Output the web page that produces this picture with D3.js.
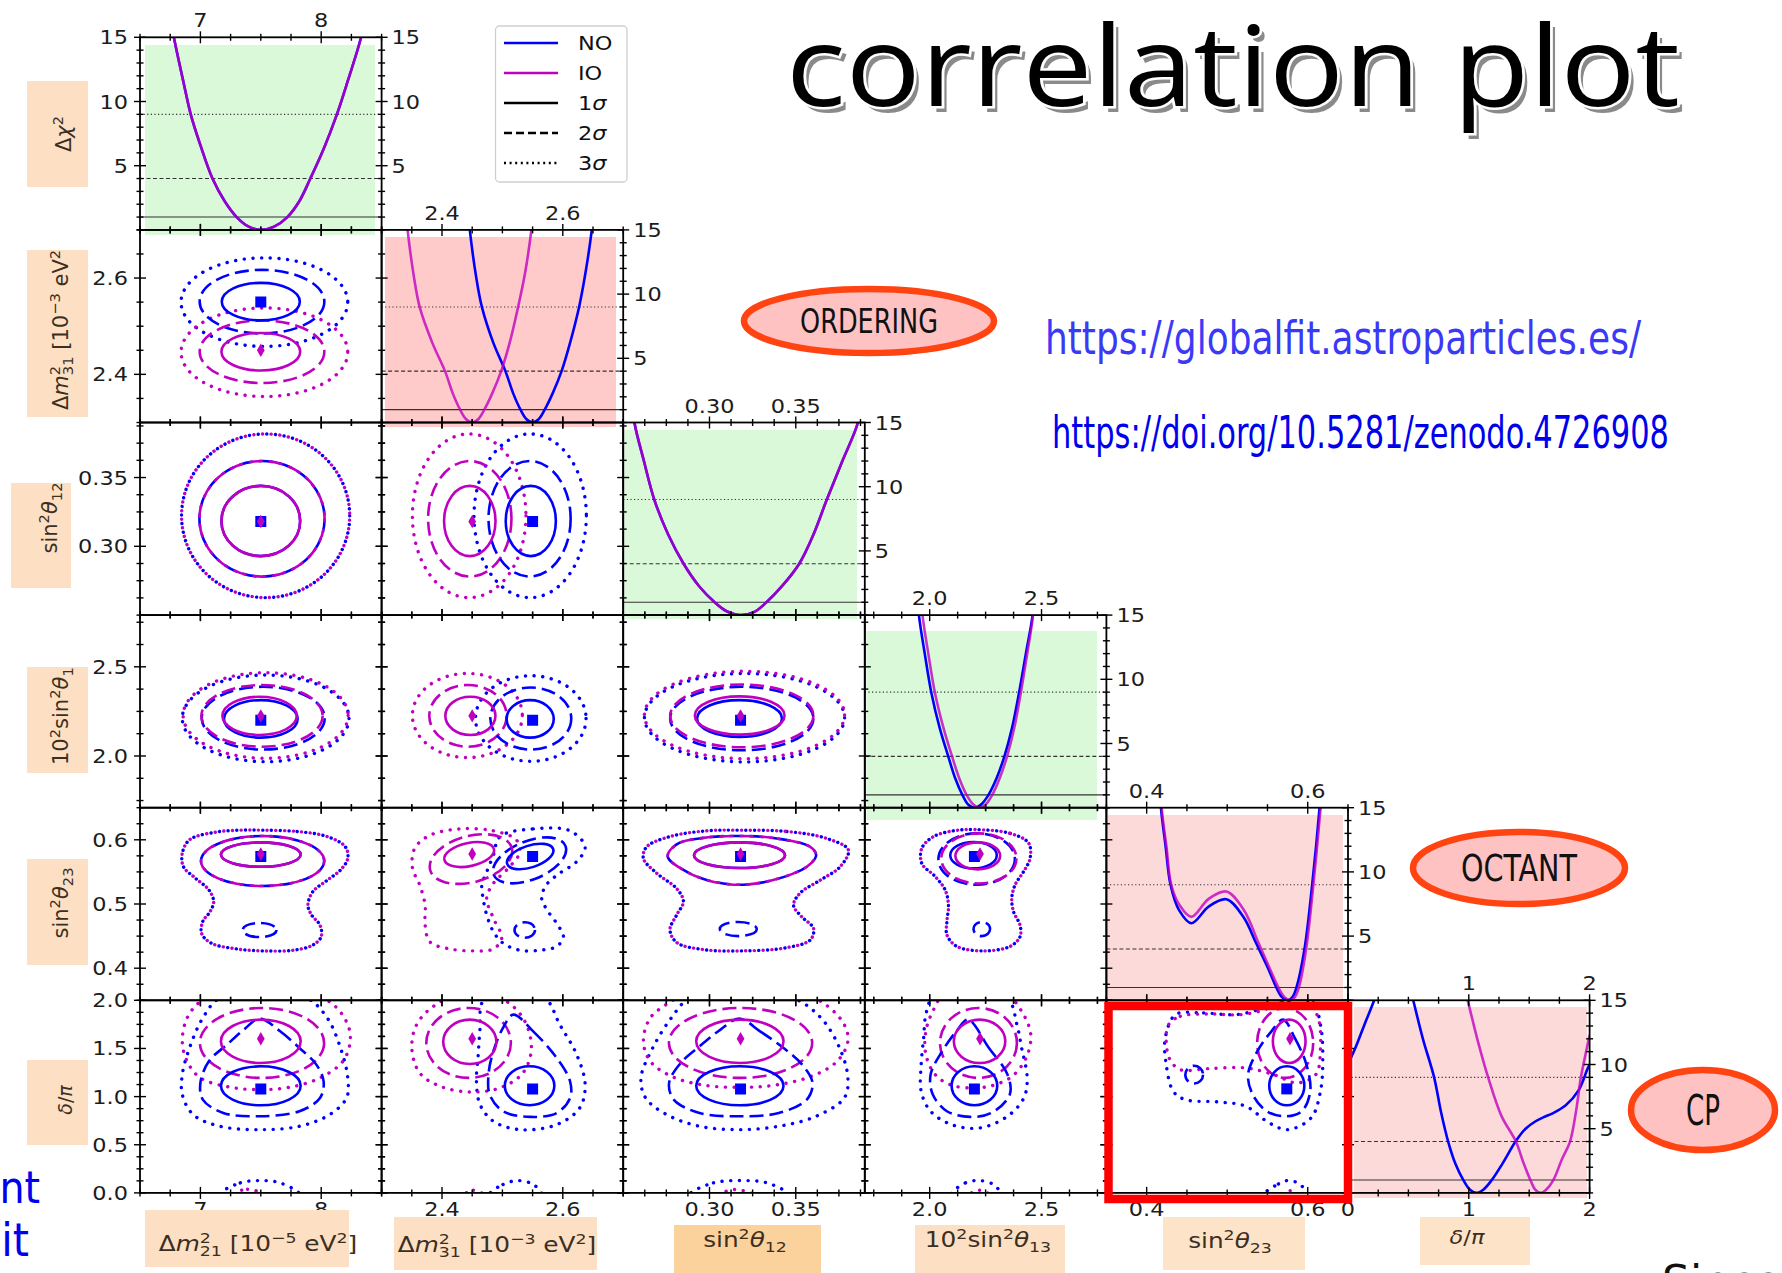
<!DOCTYPE html>
<html>
<head>
<meta charset="utf-8">
<script src="https://cdn.jsdelivr.net/npm/d3@7"></script>
<style>
  body { margin: 0; background: #fff; }
  svg { display: block; }
  text { font-family: "DejaVu Sans", sans-serif; white-space: pre; }
  .cond { font-family: "DejaVu Sans Condensed", "Liberation Sans Narrow", "DejaVu Sans", sans-serif; }
</style>
</head>
<body>
<svg id="chart" width="1782" height="1273"></svg>
<script>
// ---- parameters, in corner-plot order (column index = row index) ----
var paramNames = ['dm21', 'dm31', 's12', 's13', 's23', 'dcp'];
var domains = [[6.5, 8.5], [2.3, 2.7], [0.25, 0.39], [1.71, 2.79], [0.35, 0.65], [0, 2]];
var chiDomain = [0, 15];

var colTicks = [[7, 8], [2.4, 2.6], [0.30, 0.35], [2.0, 2.5], [0.4, 0.6], [0, 1, 2]];
var colTickLabels = [['7', '8'], ['2.4', '2.6'], ['0.30', '0.35'], ['2.0', '2.5'], ['0.4', '0.6'], ['0', '1', '2']];
var topTicks = [[7, 8], [2.4, 2.6], [0.30, 0.35], [2.0, 2.5], [0.4, 0.6], [1, 2]];
var topTickLabels = [['7', '8'], ['2.4', '2.6'], ['0.30', '0.35'], ['2.0', '2.5'], ['0.4', '0.6'], ['1', '2']];
var colMinor = [0.25, 0.05, 0.0125, 0.125, 0.05, 0.25];
var rowTicks = [[5, 10, 15], [2.4, 2.6], [0.30, 0.35], [2.0, 2.5], [0.4, 0.5, 0.6], [0, 0.5, 1, 1.5, 2]];
var rowTickLabels = [['5', '10', '15'], ['2.4', '2.6'], ['0.30', '0.35'], ['2.0', '2.5'], ['0.4', '0.5', '0.6'], ['0.0', '0.5', '1.0', '1.5', '2.0']];
var rowMinor = [1, 0.05, 0.0125, 0.125, 0.025, 0.125];
var chiTicks = [5, 10, 15];
var chiTickLabels = ['5', '10', '15'];
var sigmaLevels = [1, 4, 9];

// best fit points
var bestNO = [7.50, 2.55, 0.318, 2.20, 0.574, 1.08];
var bestIO = [7.50, 2.45, 0.318, 2.225, 0.578, 1.60];

// ---- 1D profiles  [value, delta chi2] ----
var chiDm21NO = [[6.74,17],[6.78,15],[6.86,11.5],[6.92,9],[7.00,6.6],[7.10,4],[7.20,2.25],[7.30,1],[7.40,0.25],[7.50,0],[7.61,0.25],[7.72,1],[7.82,2.25],[7.91,4],[8.02,6.3],[8.13,9],[8.22,11.6],[8.33,15],[8.37,17]];
var chiDm21IO = chiDm21NO; // both orderings coincide
var chiDm31NO = [[2.442,17],[2.446,15],[2.456,11.5],[2.466,9],[2.485,6.2],[2.505,4],[2.518,2.25],[2.530,1],[2.540,0.25],[2.550,0],[2.560,0.25],[2.570,1],[2.583,2.25],[2.598,4],[2.612,6.2],[2.627,9],[2.637,11.5],[2.648,15],[2.652,17]];
var chiDm31IO = [[2.339,17],[2.343,15],[2.353,11.5],[2.363,9],[2.384,6.2],[2.405,4],[2.418,2.25],[2.430,1],[2.440,0.25],[2.450,0],[2.460,0.25],[2.470,1],[2.483,2.25],[2.498,4],[2.512,6.2],[2.526,9],[2.537,11.5],[2.548,15],[2.552,17]];
var chiS12NO = [[0.255,17],[0.2565,15],[0.262,12],[0.268,9],[0.276,6.3],[0.285,4],[0.294,2.25],[0.303,1],[0.310,0.3],[0.318,0],[0.326,0.25],[0.333,1],[0.342,2.25],[0.352,4],[0.360,6.2],[0.368,9],[0.377,12],[0.386,15],[0.388,17]];
var chiS12IO = chiS12NO;
var chiS13NO = [[1.945,17],[1.952,15],[1.978,12],[2.007,9],[2.045,6.2],[2.083,4],[2.115,2.25],[2.146,1],[2.172,0.25],[2.200,0],[2.230,0.25],[2.263,1],[2.298,2.25],[2.334,4],[2.368,6.2],[2.400,9],[2.430,12],[2.460,15],[2.467,17]];
var chiS13IO = [[1.962,17],[1.968,15],[1.994,12],[2.023,9],[2.062,6.2],[2.100,4],[2.133,2.25],[2.165,1],[2.195,0.25],[2.222,0],[2.250,0.25],[2.280,1],[2.312,2.25],[2.346,4],[2.378,6.2],[2.408,9],[2.436,12],[2.462,15],[2.469,17]];
var chiS23NO = [[0.416,17],[0.4177,15],[0.4235,12],[0.4296,9],[0.4404,7.0],[0.4555,6.0],[0.477,7.3],[0.499,7.87],[0.520,6.5],[0.536,4.44],[0.550,2.6],[0.561,1.0],[0.568,0.25],[0.5755,0],[0.581,0.25],[0.586,1],[0.596,4],[0.6055,9],[0.6147,15],[0.617,17]];
var chiS23IO = [[0.417,17],[0.4185,15],[0.4245,12],[0.4305,9],[0.441,7.4],[0.4555,6.5],[0.477,7.9],[0.499,8.47],[0.521,7.0],[0.538,4.6],[0.552,2.6],[0.5635,1.0],[0.571,0.25],[0.578,0],[0.584,0.25],[0.589,1],[0.598,4],[0.607,9],[0.616,15],[0.6185,17]];
var chiDcpNO = [[0,10],[0.07,11.5],[0.14,13.2],[0.216,15],[0.30,17.5],[0.40,18.5],[0.50,16.5],[0.54,15],[0.62,12],[0.713,9],[0.77,6.3],[0.829,4],[0.89,2.25],[0.955,1],[1.01,0.25],[1.063,0],[1.12,0.25],[1.19,1],[1.28,2.3],[1.387,4],[1.47,5.0],[1.55,5.56],[1.62,5.9],[1.694,6.2],[1.80,6.8],[1.91,8.0],[1.98,9.6],[2.0,10]];
var chiDcpIO = [[0.85,20],[0.93,17],[0.99,15],[1.07,12],[1.16,9],[1.27,6.0],[1.39,4],[1.45,2.4],[1.51,1],[1.55,0.25],[1.595,0],[1.64,0.25],[1.70,1],[1.77,2.6],[1.838,4],[1.89,6.5],[1.928,9],[1.98,11.4],[2.0,12.3]];

// ---- 2D contours: near-elliptic ones  [row, col, ordering, sigma, cx, cy, rx, ry, tilt] ----
var ellipses = [
  [1,0,'NO',1, 7.50,2.551,0.323,0.039,0], [1,0,'NO',2, 7.51,2.551,0.516,0.066,0], [1,0,'NO',3, 7.53,2.550,0.69,0.092,0],
  [1,0,'IO',1, 7.50,2.447,0.326,0.039,0], [1,0,'IO',2, 7.51,2.447,0.516,0.065,0], [1,0,'IO',3, 7.53,2.446,0.69,0.092,0],
  [2,0,'B',1, 7.50,0.3184,0.326,0.0255,0], [2,0,'B',2, 7.51,0.320,0.518,0.042,0], [2,0,'B',3, 7.54,0.3222,0.696,0.0595,0],
  [2,1,'IO',1, 2.446,0.3184,0.0426,0.0255,0], [2,1,'NO',1, 2.547,0.3184,0.0415,0.0255,0],
  [2,1,'IO',2, 2.446,0.320,0.069,0.042,0], [2,1,'NO',2, 2.545,0.320,0.068,0.042,0],
  [2,1,'IO',3, 2.445,0.3222,0.094,0.0595,0], [2,1,'NO',3, 2.546,0.3222,0.093,0.0595,0],
  [3,0,'NO',1, 7.50,2.208,0.305,0.105,0], [3,0,'IO',1, 7.49,2.225,0.308,0.107,0],
  [3,0,'NO',2, 7.52,2.212,0.509,0.176,0], [3,0,'IO',2, 7.51,2.225,0.502,0.173,0],
  [3,0,'NO',3, 7.54,2.211,0.69,0.243,0], [3,0,'IO',3, 7.54,2.227,0.683,0.240,0],
  [3,1,'IO',1, 2.447,2.225,0.0415,0.107,0], [3,1,'NO',1, 2.546,2.208,0.039,0.105,0],
  [3,1,'IO',2, 2.443,2.225,0.064,0.173,0], [3,1,'NO',2, 2.547,2.21,0.067,0.174,0],
  [3,1,'IO',3, 2.442,2.227,0.091,0.236,0], [3,1,'NO',3, 2.547,2.21,0.0915,0.24,0],
  [3,2,'NO',1, 0.3174,2.21,0.0246,0.103,0], [3,2,'IO',1, 0.3175,2.227,0.026,0.107,0],
  [3,2,'NO',2, 0.3187,2.21,0.0415,0.178,0], [3,2,'IO',2, 0.3187,2.225,0.0415,0.176,0],
  [3,2,'NO',3, 0.3203,2.215,0.058,0.248,0], [3,2,'IO',3, 0.3203,2.23,0.058,0.245,0],
  [4,0,'B',1, 7.50,0.577,0.33,0.019,0], [4,0,'B',2, 7.515,0.567,0.51,0.039,0], [4,0,'NO',2, 7.49,0.4595,0.14,0.011,0],
  [4,1,'NO',1, 2.546,0.574,0.040,0.017,-18], [4,1,'IO',1, 2.445,0.577,0.042,0.018,-12],
  [4,1,'NO',2, 2.545,0.568,0.064,0.030,-22], [4,1,'IO',2, 2.448,0.570,0.070,0.036,-15],
  [4,1,'NO',2, 2.537,0.4595,0.017,0.012,0],
  [4,2,'B',1, 0.3174,0.576,0.0264,0.020,0], [4,2,'NO',2, 0.3167,0.461,0.0107,0.011,0],
  [4,3,'NO',1, 2.196,0.576,0.104,0.0205,0], [4,3,'IO',1, 2.215,0.575,0.100,0.021,0],
  [4,3,'NO',2, 2.21,0.570,0.171,0.040,0], [4,3,'IO',2, 2.22,0.571,0.168,0.039,0], [4,3,'NO',2, 2.233,0.461,0.037,0.011,0],
  [5,0,'IO',1, 7.50,1.574,0.33,0.225,0], [5,0,'NO',1, 7.50,1.112,0.33,0.2025,0], [5,0,'IO',2, 7.51,1.557,0.514,0.363,0],
  [5,1,'IO',1, 2.446,1.569,0.044,0.23,0], [5,1,'NO',1, 2.545,1.112,0.041,0.2025,0], [5,1,'IO',2, 2.444,1.557,0.070,0.363,0],
  [5,2,'IO',1, 0.3176,1.574,0.0253,0.225,0], [5,2,'NO',1, 0.3176,1.112,0.0253,0.2025,0], [5,2,'IO',2, 0.318,1.557,0.0415,0.363,0],
  [5,3,'IO',1, 2.223,1.574,0.115,0.225,0], [5,3,'NO',1, 2.20,1.112,0.102,0.2025,0], [5,3,'IO',2, 2.218,1.557,0.172,0.363,0],
  [5,4,'IO',1, 0.577,1.574,0.0203,0.225,0], [5,4,'NO',1, 0.574,1.112,0.0218,0.2025,0], [5,4,'IO',2, 0.572,1.557,0.0348,0.363,0],
  [5,4,'NO',2, 0.459,1.228,0.011,0.092,0]
];

// ---- 2D contours: irregular outlines, [x, y] in parameter units ----
var s23_dm21_3s = [[7.52,0.615],[7.80,0.613],[8.05,0.605],[8.20,0.589],[8.22,0.571],[8.16,0.553],[8.05,0.537],[7.93,0.519],[7.89,0.498],[7.92,0.483],[7.99,0.467],[8.00,0.449],[7.93,0.436],[7.77,0.428],[7.52,0.427],[7.30,0.430],[7.09,0.439],[7.01,0.454],[7.02,0.473],[7.08,0.488],[7.11,0.504],[7.07,0.522],[6.96,0.540],[6.86,0.558],[6.85,0.579],[6.91,0.600],[7.13,0.612],[7.33,0.615]];
var s23_dm31_NO3 = [[2.496,0.605],[2.551,0.617],[2.612,0.614],[2.637,0.589],[2.623,0.566],[2.595,0.548],[2.573,0.530],[2.565,0.509],[2.576,0.488],[2.592,0.467],[2.601,0.449],[2.590,0.434],[2.562,0.428],[2.529,0.428],[2.501,0.439],[2.485,0.457],[2.474,0.483],[2.468,0.509],[2.466,0.530],[2.474,0.550],[2.485,0.576]];
var s23_dm31_IO3 = [[2.430,0.617],[2.485,0.614],[2.523,0.600],[2.529,0.581],[2.512,0.558],[2.485,0.532],[2.474,0.509],[2.485,0.478],[2.499,0.447],[2.485,0.430],[2.452,0.427],[2.413,0.430],[2.380,0.441],[2.372,0.467],[2.372,0.498],[2.363,0.530],[2.351,0.556],[2.355,0.587],[2.380,0.607]];
var s23_s12_2s = [[0.3177,0.606],[0.3390,0.602],[0.3584,0.589],[0.3618,0.576],[0.3564,0.558],[0.3390,0.539],[0.3197,0.530],[0.3003,0.536],[0.2849,0.553],[0.2758,0.574],[0.2810,0.593],[0.2965,0.603]];
var s23_s12_3s = [[0.3177,0.615],[0.3448,0.613],[0.3680,0.602],[0.3805,0.584],[0.3757,0.558],[0.3641,0.537],[0.3525,0.517],[0.3487,0.498],[0.3535,0.480],[0.3603,0.462],[0.3584,0.444],[0.3448,0.432],[0.3197,0.427],[0.2965,0.429],[0.2810,0.440],[0.2771,0.460],[0.2810,0.483],[0.2849,0.504],[0.2810,0.524],[0.2694,0.548],[0.2617,0.571],[0.2636,0.589],[0.2771,0.605],[0.2984,0.614]];
var s23_s13_3s = [[2.203,0.616],[2.360,0.610],[2.442,0.595],[2.449,0.571],[2.419,0.550],[2.382,0.530],[2.367,0.509],[2.375,0.488],[2.404,0.467],[2.404,0.449],[2.360,0.434],[2.241,0.427],[2.121,0.434],[2.077,0.452],[2.077,0.473],[2.084,0.498],[2.069,0.522],[2.024,0.543],[1.965,0.563],[1.965,0.587],[2.017,0.605],[2.106,0.614]];

var dcp_dm21_NO2 = [[7.49,1.810],[7.66,1.678],[7.82,1.505],[7.96,1.332],[8.02,1.159],[7.99,0.986],[7.82,0.848],[7.49,0.796],[7.19,0.830],[7.02,0.969],[7.00,1.142],[7.07,1.367],[7.22,1.540],[7.36,1.696]];
var dcp_dm21_IO3 = [[7.19,2.128],[7.80,2.128],[8.10,1.955],[8.22,1.747],[8.24,1.574],[8.18,1.367],[7.99,1.194],[7.74,1.097],[7.49,1.073],[7.25,1.097],[7.00,1.194],[6.89,1.367],[6.85,1.574],[6.89,1.817],[7.00,1.990]];
var dcp_dm21_NO3 = [[7.16,2.024],[7.49,2.076],[7.88,2.024],[8.05,1.817],[8.16,1.505],[8.22,1.194],[8.21,0.986],[8.07,0.813],[7.82,0.692],[7.49,0.657],[7.16,0.692],[6.94,0.813],[6.85,1.021],[6.85,1.228],[6.91,1.505],[7.02,1.817]];
var dcp_dm21_NO3b = [[7.16,-0.017],[7.33,0.104],[7.49,0.128],[7.66,0.104],[7.82,-0.017],[7.49,-0.121]];
var dcp_dm21_IO3b = [[7.27,-0.017],[7.39,0.038],[7.52,-0.017],[7.39,-0.087]];

var dcp_dm31_NO2 = [[2.518,1.851],[2.551,1.678],[2.590,1.401],[2.612,1.159],[2.612,0.986],[2.590,0.830],[2.546,0.789],[2.501,0.848],[2.479,1.021],[2.477,1.228],[2.485,1.471],[2.501,1.713]];
var dcp_dm31_IO3 = [[2.430,2.059],[2.496,2.024],[2.534,1.817],[2.548,1.505],[2.534,1.246],[2.496,1.090],[2.446,1.048],[2.397,1.107],[2.363,1.246],[2.350,1.505],[2.358,1.747],[2.386,1.938]];
var dcp_dm31_NO3 = [[2.468,1.990],[2.512,2.059],[2.570,2.024],[2.595,1.747],[2.623,1.436],[2.637,1.125],[2.628,0.882],[2.590,0.709],[2.529,0.657],[2.485,0.744],[2.463,0.917],[2.457,1.159],[2.460,1.436],[2.463,1.713]];
var dcp_dm31_NO3b = [[2.479,-0.017],[2.501,0.087],[2.526,0.128],[2.551,0.087],[2.565,-0.017],[2.523,-0.121]];
var dcp_dm31_IO3b = [[2.438,-0.017],[2.452,0.028],[2.468,-0.017],[2.452,-0.069]];

var dcp_s12_NO2 = [[0.3172,1.810],[0.3293,1.678],[0.3429,1.505],[0.3537,1.332],[0.3597,1.142],[0.3564,0.969],[0.3402,0.830],[0.3172,0.796],[0.2942,0.830],[0.2793,0.969],[0.2766,1.142],[0.2833,1.349],[0.2955,1.540],[0.3064,1.696]];
var dcp_s12_IO3 = [[0.2914,2.128],[0.3456,2.128],[0.3673,1.955],[0.3781,1.747],[0.3802,1.574],[0.3740,1.367],[0.3591,1.211],[0.3375,1.118],[0.3172,1.097],[0.2969,1.118],[0.2779,1.211],[0.2657,1.367],[0.2617,1.574],[0.2657,1.817],[0.2779,1.990]];
var dcp_s12_NO3 = [[0.2887,2.024],[0.3172,2.076],[0.3483,2.024],[0.3646,1.817],[0.3754,1.505],[0.3802,1.194],[0.3781,0.986],[0.3618,0.796],[0.3402,0.692],[0.3172,0.657],[0.2942,0.692],[0.2752,0.813],[0.2630,0.986],[0.2603,1.194],[0.2671,1.505],[0.2779,1.817]];
var dcp_s12_NO3b = [[0.2887,-0.017],[0.3023,0.104],[0.3180,0.128],[0.3334,0.104],[0.3456,-0.017],[0.3180,-0.121]];
var dcp_s12_IO3b = [[0.3064,-0.017],[0.3145,0.035],[0.3253,-0.017],[0.3145,-0.069]];

var dcp_s13_NO2 = [[2.171,1.799],[2.265,1.505],[2.348,1.228],[2.358,1.021],[2.275,0.830],[2.181,0.789],[2.077,0.848],[2.014,1.021],[2.004,1.228],[2.056,1.471],[2.119,1.678]];
var dcp_s13_IO3 = [[2.077,2.093],[2.327,2.093],[2.411,1.886],[2.452,1.644],[2.431,1.401],[2.369,1.211],[2.285,1.118],[2.202,1.090],[2.098,1.118],[2.025,1.228],[1.983,1.436],[1.983,1.678],[2.014,1.886]];
var dcp_s13_NO3 = [[2.014,2.024],[2.202,2.076],[2.348,2.024],[2.390,1.747],[2.411,1.505],[2.436,1.194],[2.421,0.986],[2.348,0.796],[2.223,0.674],[2.098,0.709],[2.004,0.848],[1.962,1.055],[1.962,1.332],[1.973,1.609],[1.983,1.851]];
var dcp_s13_NO3b = [[2.098,-0.017],[2.160,0.104],[2.223,0.128],[2.285,0.087],[2.317,-0.017],[2.213,-0.104]];
var dcp_s13_IO3b = [[2.181,-0.017],[2.223,0.028],[2.265,-0.017],[2.223,-0.069]];

var dcp_s23_NO2 = [[0.5694,1.799],[0.5839,1.609],[0.5984,1.332],[0.6031,1.055],[0.5926,0.848],[0.5723,0.796],[0.5491,0.848],[0.5317,1.021],[0.5259,1.228],[0.5375,1.471],[0.5549,1.678]];
var dcp_s23_IO3 = [[0.4272,1.747],[0.4417,1.834],[0.4765,1.858],[0.5172,1.851],[0.5462,1.903],[0.5694,1.990],[0.5984,2.007],[0.6129,1.817],[0.6158,1.505],[0.6100,1.228],[0.5868,1.142],[0.5578,1.228],[0.5230,1.298],[0.4765,1.291],[0.4417,1.280],[0.4289,1.384],[0.4243,1.574]];
var dcp_s23_NO3 = [[0.4359,1.851],[0.4707,1.869],[0.5113,1.851],[0.5462,1.920],[0.5752,1.990],[0.6042,2.024],[0.6158,1.747],[0.6187,1.401],[0.6158,1.055],[0.6042,0.779],[0.5752,0.657],[0.5520,0.727],[0.5230,0.900],[0.4881,0.945],[0.4475,0.969],[0.4330,1.055],[0.4243,1.332],[0.4231,1.609]];
var dcp_s23_NO3b = [[0.5462,-0.017],[0.5636,0.093],[0.5752,0.128],[0.5897,0.093],[0.5984,-0.017],[0.5723,-0.104]];
var dcp_s23_IO3b = [[0.5694,-0.017],[0.5781,0.024],[0.5868,-0.017],[0.5781,-0.062]];

var polygons = [
  [4,0,'B',3,s23_dm21_3s],
  [4,1,'NO',3,s23_dm31_NO3], [4,1,'IO',3,s23_dm31_IO3],
  [4,2,'B',2,s23_s12_2s], [4,2,'B',3,s23_s12_3s],
  [4,3,'B',3,s23_s13_3s],
  [5,0,'NO',2,dcp_dm21_NO2], [5,0,'NO',3,dcp_dm21_NO3], [5,0,'IO',3,dcp_dm21_IO3], [5,0,'NO',3,dcp_dm21_NO3b], [5,0,'IO',3,dcp_dm21_IO3b],
  [5,1,'NO',2,dcp_dm31_NO2], [5,1,'NO',3,dcp_dm31_NO3], [5,1,'IO',3,dcp_dm31_IO3], [5,1,'NO',3,dcp_dm31_NO3b], [5,1,'IO',3,dcp_dm31_IO3b],
  [5,2,'NO',2,dcp_s12_NO2], [5,2,'NO',3,dcp_s12_NO3], [5,2,'IO',3,dcp_s12_IO3], [5,2,'NO',3,dcp_s12_NO3b], [5,2,'IO',3,dcp_s12_IO3b],
  [5,3,'NO',2,dcp_s13_NO2], [5,3,'NO',3,dcp_s13_NO3], [5,3,'IO',3,dcp_s13_IO3], [5,3,'NO',3,dcp_s13_NO3b], [5,3,'IO',3,dcp_s13_IO3b],
  [5,4,'NO',2,dcp_s23_NO2], [5,4,'NO',3,dcp_s23_NO3], [5,4,'IO',3,dcp_s23_IO3], [5,4,'NO',3,dcp_s23_NO3b], [5,4,'IO',3,dcp_s23_IO3b]
];

var chiNO = [chiDm21NO, chiDm31NO, chiS12NO, chiS13NO, chiS23NO, chiDcpNO];
var chiIO = [chiDm21IO, chiDm31IO, chiS12IO, chiS13IO, chiS23IO, chiDcpIO];

// ---- layout ----
var X0 = 140, Y0 = 37.3, PW = 241.6, PH = 192.6;
var colNO = '#0000ff', colIO = '#c000c0';
var textStretch = 1.18;   // the pasted plot is a little wider than tall
function px(c) { return X0 + c * PW; }
function py(r) { return Y0 + r * PH; }

var svg = d3.select('#chart');
var defs = svg.append('defs');
defs.append('clipPath').attr('id', 'panelClip')
  .append('rect').attr('width', PW).attr('height', PH);

var layerBg = svg.append('g');
var layerPlot = svg.append('g');
var layerAxes = svg.append('g');
var layerText = svg.append('g');
var layerDeco = svg.append('g');

function cellGroup(layer, r, c) {
  return layer.append('g').attr('transform', 'translate(' + px(c) + ',' + py(r) + ')');
}

var xs = domains.map(function (d) { return d3.scaleLinear().domain(d).range([0, PW]); });
var ys = domains.map(function (d) { return d3.scaleLinear().domain(d).range([PH, 0]); });
var chiY = d3.scaleLinear().domain(chiDomain).range([PH, 0]);

// ---- diagonal: 1D profiles on tinted backgrounds ----
var diagFill = ['#d9f9d9', '#ffcaca', '#d9f9d9', '#d9f9d9', '#fddada', '#fddada'];
var diagBox = [[5, 7.7, 230, 190], [3.4, 7.1, 231, 190], [1.3, 7.5, 232.5, 189],
               [1.7, 15.9, 230.5, 189], [1.6, 7.3, 235, 185], [6, 6.7, 233, 191]];

for (var i = 0; i < 6; i++) {
  var b = diagBox[i];
  cellGroup(layerBg, i, i).append('rect')
    .attr('x', b[0]).attr('y', b[1]).attr('width', b[2]).attr('height', b[3])
    .attr('fill', diagFill[i]);

  var g = cellGroup(layerPlot, i, i).attr('clip-path', 'url(#panelClip)');
  sigmaLevels.forEach(function (lv, k) {
    g.append('line')
      .attr('x1', 0).attr('x2', PW).attr('y1', chiY(lv)).attr('y2', chiY(lv))
      .attr('stroke', '#333').attr('stroke-width', 1.1)
      .attr('stroke-dasharray', [null, '4 2.5', '1.2 2.4'][k]);
  });
  var profile = d3.line()
    .x(function (d) { return xs[i](d[0]); })
    .y(function (d) { return chiY(d[1]); })
    .curve(d3.curveCatmullRom.alpha(0.5));
  g.append('path').attr('d', profile(chiNO[i]))
    .attr('fill', 'none').attr('stroke', colNO).attr('stroke-width', 2.6);
  g.append('path').attr('d', profile(chiIO[i]))
    .attr('fill', 'none').attr('stroke', colIO).attr('stroke-width', 2.6).attr('stroke-opacity', 0.8);
}

// ---- off-diagonal: confidence contours ----
function styleContour(sel, ord, lvl, shift) {
  sel.attr('fill', 'none')
    .attr('stroke', ord === 'NO' ? colNO : colIO)
    .attr('stroke-width', lvl === 3 ? 3.4 : 2.6)
    .attr('stroke-linecap', lvl === 3 ? 'round' : 'butt')
    .attr('stroke-dasharray', lvl === 1 ? null : (lvl === 2 ? '14 6' : '0.1 8.6'))
    .attr('stroke-dashoffset', shift ? (lvl === 2 ? 10 : 4.3) : 0);
}

function drawContours(r, c) {
  var gp = cellGroup(layerPlot, r, c).attr('clip-path', 'url(#panelClip)');
  var items = [];
  ellipses.forEach(function (e) { if (e[0] === r && e[1] === c) items.push({ lvl: e[3], ord: e[2], e: e }); });
  polygons.forEach(function (p) { if (p[0] === r && p[1] === c) items.push({ lvl: p[3], ord: p[2], pts: p[4] }); });
  items.sort(function (a, b) { return b.lvl - a.lvl; });

  var outlineOf = d3.line()
    .x(function (d) { return xs[c](d[0]); })
    .y(function (d) { return ys[r](d[1]); })
    .curve(d3.curveCatmullRomClosed.alpha(0.5));

  items.forEach(function (it) {
    var ords = it.ord === 'B' ? ['NO', 'IO'] : [it.ord];
    ords.forEach(function (o, k) {
      var el;
      if (it.e) {
        var e = it.e, cx = xs[c](e[4]), cy = ys[r](e[5]);
        el = gp.append('ellipse').attr('cx', cx).attr('cy', cy)
          .attr('rx', xs[c](e[4] + e[6]) - cx).attr('ry', cy - ys[r](e[5] + e[7]));
        if (e[8]) el.attr('transform', 'rotate(' + e[8] + ',' + cx + ',' + cy + ')');
      } else {
        el = gp.append('path').attr('d', outlineOf(it.pts));
      }
      styleContour(el, o, it.lvl, it.ord === 'B' && k === 1);
    });
  });

  gp.append('path').attr('d', d3.symbol(d3.symbolSquare, 121)())
    .attr('transform', 'translate(' + xs[c](bestNO[c]) + ',' + ys[r](bestNO[r]) + ')')
    .attr('fill', colNO);
  gp.append('path').attr('d', d3.symbol(d3.symbolDiamond, 52)())
    .attr('transform', 'translate(' + xs[c](bestIO[c]) + ',' + ys[r](bestIO[r]) + ')')
    .attr('fill', colIO);
}
for (var r = 1; r < 6; r++) {
  for (var c = 0; c < r; c++) drawContours(r, c);
}

// ---- frames and ticks ----
function tickSet(domain, step, majors) {
  var out = [];
  for (var k = Math.ceil(domain[0] / step - 1e-6); k * step <= domain[1] + 1e-9; k++) {
    var v = k * step;
    out.push({ v: v, major: majors.some(function (m) { return Math.abs(m - v) < step * 0.1; }) });
  }
  return out;
}
function xTickMarks(g, scale, ticks, y) {
  g.selectAll(null).data(ticks).enter().append('line')
    .attr('x1', function (d) { return scale(d.v); }).attr('x2', function (d) { return scale(d.v); })
    .attr('y1', function (d) { return y - (d.major ? 6 : 3.5); })
    .attr('y2', function (d) { return y + (d.major ? 6 : 3.5); })
    .attr('stroke', '#000').attr('stroke-width', 1.4);
}
function yTickMarks(g, scale, ticks, x) {
  g.selectAll(null).data(ticks).enter().append('line')
    .attr('y1', function (d) { return scale(d.v); }).attr('y2', function (d) { return scale(d.v); })
    .attr('x1', function (d) { return x - (d.major ? 6 : 3.5); })
    .attr('x2', function (d) { return x + (d.major ? 6 : 3.5); })
    .attr('stroke', '#000').attr('stroke-width', 1.4);
}

var tickFont = 19, tickCol = '#1c1c1c';
for (var rr = 0; rr < 6; rr++) {
  for (var cc = 0; cc <= rr; cc++) {
    var ga = cellGroup(layerAxes, rr, cc);
    var xt = tickSet(domains[cc], colMinor[cc], colTicks[cc]);
    xTickMarks(ga, xs[cc], xt, 0);
    xTickMarks(ga, xs[cc], xt, PH);
    if (rr === cc) {
      var ct = tickSet(chiDomain, 1, chiTicks);
      yTickMarks(ga, chiY, ct, PW);
      if (rr === 0) yTickMarks(ga, chiY, ct, 0);
    } else {
      var yt = tickSet(domains[rr], rowMinor[rr], rowTicks[rr]);
      yTickMarks(ga, ys[rr], yt, 0);
      yTickMarks(ga, ys[rr], yt, PW);
    }
    ga.append('rect').attr('width', PW).attr('height', PH)
      .attr('fill', 'none').attr('stroke', '#000').attr('stroke-width', 1.8);
  }
}

// ---- tick labels ----
function addLabels(g, vals, labels, fx, fy, anchor) {
  g.selectAll(null).data(vals).enter().append('text')
    .attr('transform', function (d) { return 'translate(' + fx(d) + ',' + fy(d) + ') scale(' + textStretch + ',1)'; })
    .attr('text-anchor', anchor).attr('font-size', tickFont).attr('fill', tickCol)
    .text(function (d, k) { return labels[k]; });
}
(function () {
  var g0 = cellGroup(layerText, 0, 0);
  addLabels(g0, chiTicks, chiTickLabels, function () { return -12; }, function (d) { return chiY(d) + 7; }, 'end');
  for (var r2 = 1; r2 < 6; r2++) {
    var gl = cellGroup(layerText, r2, 0);
    addLabels(gl, rowTicks[r2], rowTickLabels[r2], function () { return -12; },
      function (d) { return ys[r2](d) + 7; }, 'end');
  }
  for (var c2 = 0; c2 < 6; c2++) {
    var gb = cellGroup(layerText, 5, c2);
    addLabels(gb, colTicks[c2], colTickLabels[c2], function (d) { return xs[c2](d); },
      function () { return PH + 23; }, 'middle');
    var gt = cellGroup(layerText, c2, c2);
    addLabels(gt, topTicks[c2], topTickLabels[c2], function (d) { return xs[c2](d); },
      function () { return -10; }, 'middle');
    addLabels(gt, chiTicks, chiTickLabels, function () { return PW + 10; },
      function (d) { return chiY(d) + 7; }, 'start');
  }
})();

// ---- math-style text helper ----
function mathText(parent, x, y, fs, parts, anchor, rot, fill, sx) {
  var t = parent.append('text').attr('font-size', fs).attr('text-anchor', anchor || 'middle')
    .attr('fill', fill || '#000')
    .attr('transform', 'translate(' + x + ',' + y + ')' + (rot ? ' rotate(' + rot + ')' : '') + (sx ? ' scale(' + sx + ',1)' : ''));
  var off = 0;
  parts.forEach(function (p) {
    if (typeof p === 'string') p = { t: p };
    if (p.t !== undefined) {
      t.append('tspan').attr('dy', -off).attr('font-style', p.i ? 'italic' : null).text(p.t);
      off = 0;
    } else if (p.sup !== undefined) {
      var s = t.append('tspan').attr('font-size', fs * 0.7).attr('dy', -0.38 * fs - off).text(p.sup);
      off = -0.38 * fs;
      if (p.sub !== undefined) {
        var w = s.node().getComputedTextLength();
        t.append('tspan').attr('font-size', fs * 0.7).attr('dx', -w).attr('dy', 0.6 * fs).text(p.sub);
        off = 0.22 * fs;
      }
    } else {
      t.append('tspan').attr('font-size', fs * 0.7).attr('dy', 0.22 * fs - off).text(p.sub);
      off = 0.22 * fs;
    }
  });
  return t;
}

var lblDchi = ['Δ', { t: 'χ', i: 1 }, { sup: '2' }];
var lblDm21 = ['Δ', { t: 'm', i: 1 }, { sup: '2', sub: '21' }, ' [10', { sup: '−5' }, ' eV', { sup: '2' }, ']'];
var lblDm31 = ['Δ', { t: 'm', i: 1 }, { sup: '2', sub: '31' }, ' [10', { sup: '−3' }, ' eV', { sup: '2' }, ']'];
var lblS12 = ['sin', { sup: '2' }, { t: 'θ', i: 1 }, { sub: '12' }];
var lblS13 = ['10', { sup: '2' }, 'sin', { sup: '2' }, { t: 'θ', i: 1 }, { sub: '13' }];
var lblS23 = ['sin', { sup: '2' }, { t: 'θ', i: 1 }, { sub: '23' }];
var lblDcp = [{ t: 'δ', i: 1 }, '/', { t: 'π', i: 1 }];

// ---- axis title boxes ----
var labelInk = '#3b2f22';
var leftBoxes = [[27, 81, 61, 106], [27, 250, 61, 167], [11, 483, 60, 105], [27, 667, 61, 106], [27, 859, 61, 106], [27, 1060, 61, 85]];
var leftText = [[71, 134, 'middle', lblDchi, 21], [68, 410, 'start', lblDm31, 21], [57, 518, 'middle', lblS12, 21],
                [68, 765, 'start', lblS13, 21], [68, 903, 'middle', lblS23, 21], [72, 1100, 'middle', lblDcp, 19]];
leftBoxes.forEach(function (bx, k) {
  var id = 'lclip' + k;
  defs.append('clipPath').attr('id', id).append('rect')
    .attr('x', bx[0]).attr('y', bx[1]).attr('width', bx[2]).attr('height', bx[3]);
  var gg = layerDeco.append('g').attr('clip-path', 'url(#' + id + ')');
  gg.append('rect').attr('x', bx[0]).attr('y', bx[1]).attr('width', bx[2]).attr('height', bx[3]).attr('fill', '#fde0c4');
  var lt = leftText[k];
  mathText(gg, lt[0], lt[1], lt[4], lt[3], lt[2], -90, labelInk);
});

var bottomBoxes = [[145, 1210, 204, 57, '#fde0c4'], [394, 1217, 203, 53, '#fde0c4'], [674, 1225, 147, 48, '#fcd29c'],
                   [915, 1225, 150, 48, '#fde0c4'], [1163, 1217, 142, 53, '#fde3c8'], [1420, 1217, 110, 48, '#fde3c8']];
var bottomText = [[258, 1251, lblDm21, 21], [497, 1252, lblDm31, 21], [745, 1247, lblS12, 21],
                  [988, 1247, lblS13, 21], [1230, 1248, lblS23, 21], [1467, 1244, lblDcp, 19]];
bottomBoxes.forEach(function (bx, k) {
  layerDeco.append('rect').attr('x', bx[0]).attr('y', bx[1]).attr('width', bx[2]).attr('height', bx[3]).attr('fill', bx[4]);
  var bt = bottomText[k];
  mathText(layerDeco, bt[0], bt[1], bt[3], bt[2], 'middle', 0, labelInk, textStretch);
});

// ---- legend ----
var legendItems = [
  { label: ['NO'], color: colNO, dash: null },
  { label: ['IO'], color: colIO, dash: null },
  { label: ['1', { t: 'σ', i: 1 }], color: '#000', dash: null },
  { label: ['2', { t: 'σ', i: 1 }], color: '#000', dash: '8 4' },
  { label: ['3', { t: 'σ', i: 1 }], color: '#000', dash: '2 3.6' }
];
var lg = layerDeco.append('g');
lg.append('rect').attr('x', 495.5).attr('y', 26).attr('width', 131.5).attr('height', 156)
  .attr('rx', 4).attr('fill', '#fff').attr('stroke', '#cfcfcf').attr('stroke-width', 1.3);
legendItems.forEach(function (d, k) {
  var yy = 43 + k * 30;
  lg.append('line').attr('x1', 504).attr('x2', 558).attr('y1', yy).attr('y2', yy)
    .attr('stroke', d.color).attr('stroke-width', 2.6).attr('stroke-dasharray', d.dash);
  mathText(lg, 578, yy + 7, 19, d.label, 'start', 0, '#111', textStretch);
});

// ---- annotations ----
var titleText = 'correlation plot';
layerDeco.append('text').attr('x', 791).attr('y', 112).attr('font-size', 112)
  .attr('textLength', 894).attr('lengthAdjust', 'spacingAndGlyphs')
  .style('font-family', '"Open Sans", "DejaVu Sans", sans-serif')
  .attr('fill', '#8a8a8a').attr('stroke', '#fff').attr('stroke-width', 3).attr('paint-order', 'stroke')
  .text(titleText);
layerDeco.append('text').attr('x', 786).attr('y', 106).attr('font-size', 112)
  .attr('textLength', 894).attr('lengthAdjust', 'spacingAndGlyphs')
  .style('font-family', '"Open Sans", "DejaVu Sans", sans-serif')
  .attr('fill', '#000').attr('stroke', '#fff').attr('stroke-width', 5).attr('paint-order', 'stroke')
  .text(titleText);

var tags = [
  { text: 'ORDERING', cx: 869, cy: 321, rx: 125, ry: 32, fs: 33, len: 138 },
  { text: 'OCTANT', cx: 1519, cy: 868, rx: 106, ry: 36, fs: 37, len: 116 },
  { text: 'CP', cx: 1703, cy: 1110, rx: 72, ry: 40, fs: 42, len: 34 }
];
layerDeco.append('rect').attr('x', 1613).attr('y', 1111).attr('width', 20).attr('height', 14).attr('fill', '#fff');
tags.forEach(function (t) {
  layerDeco.append('ellipse').attr('cx', t.cx).attr('cy', t.cy).attr('rx', t.rx).attr('ry', t.ry)
    .attr('fill', '#ffc2c2').attr('stroke', '#ff4412').attr('stroke-width', 6.5);
  layerDeco.append('text').attr('class', 'cond').attr('x', t.cx).attr('y', t.cy + t.fs * 0.36)
    .attr('text-anchor', 'middle').attr('font-size', t.fs)
    .attr('textLength', t.len).attr('lengthAdjust', 'spacingAndGlyphs')
    .attr('fill', '#111').text(t.text);
});

var urls = [
  { text: 'https://globalfit.astroparticles.es/', x: 1045, y: 354, fs: 46, len: 596, fill: '#3a3af6' },
  { text: 'https://doi.org/10.5281/zenodo.4726908', x: 1052, y: 448, fs: 44, len: 617, fill: '#0000ee' }
];
urls.forEach(function (l) {
  layerDeco.append('text').attr('class', 'cond').attr('x', l.x).attr('y', l.y).attr('font-size', l.fs)
    .attr('textLength', l.len).attr('lengthAdjust', 'spacingAndGlyphs').attr('fill', l.fill).text(l.text);
});

// fragments of slide text running off the page edges
layerDeco.append('text').attr('class', 'cond').attr('x', 40).attr('y', 1203).attr('text-anchor', 'end')
  .attr('font-size', 44).attr('fill', '#0000ee').text('nt');
layerDeco.append('text').attr('class', 'cond').attr('x', 29).attr('y', 1256).attr('text-anchor', 'end')
  .attr('font-size', 46).attr('fill', '#0000ee').text('it');
layerDeco.append('text').attr('x', 1662).attr('y', 1297).attr('font-size', 44).attr('fill', '#111').text('Since all');

// highlighted panel
layerDeco.append('rect').attr('x', 1108.5).attr('y', 1006).attr('width', 239.5).attr('height', 193)
  .attr('fill', 'none').attr('stroke', '#ff0000').attr('stroke-width', 8.5);
</script>
</body>
</html>
